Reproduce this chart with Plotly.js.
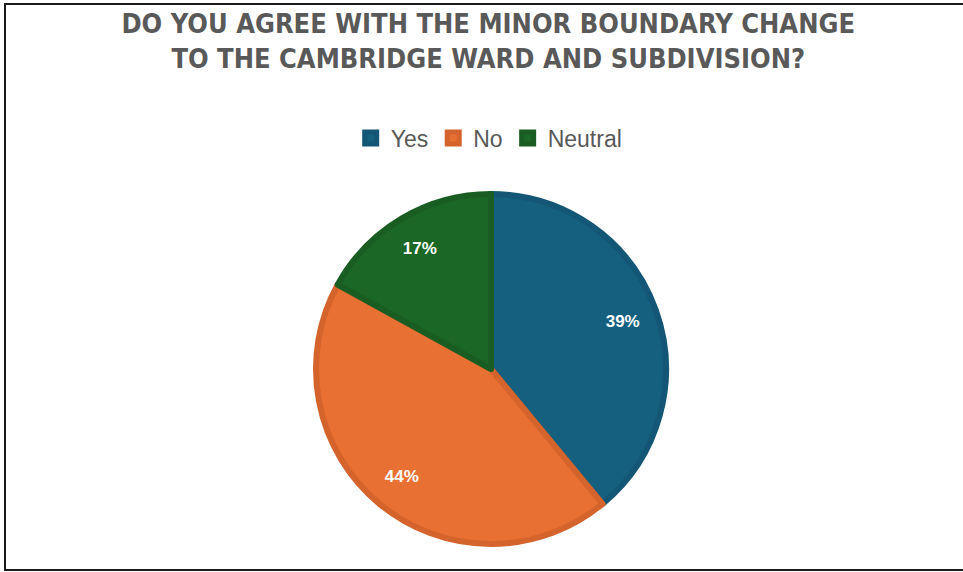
<!DOCTYPE html>
<html>
<head>
<meta charset="utf-8">
<script src="https://cdn.plot.ly/plotly-3.0.1.min.js"></script>
<style>
html,body{margin:0;padding:0;background:#fff;}
#chart{width:963px;height:572px;}
</style>
</head>
<body>
<div id="chart"></div>
<script>
const categories = ["Yes", "No", "Neutral"];
const values = [39, 44, 17];
const fillColors = ["#155F7F", "#E87033", "#1B6725"];
const edgeColors = ["#145675", "#D4642C", "#195D22"];
const titleText = "DO YOU AGREE WITH THE MINOR BOUNDARY CHANGE<br>TO THE CAMBRIDGE WARD AND SUBDIVISION?";

const W = 963, H = 572;
const cx = 491, cy = 369, r = 175;
const dom = {x: [(cx - r) / W, (cx + r) / W], y: [(H - cy - r) / H, (H - cy + r) / H]};

const pieTrace = {
  type: "pie",
  labels: categories,
  values: values,
  sort: false,
  direction: "clockwise",
  rotation: 0,
  textinfo: "none",
  marker: {colors: fillColors, line: {color: edgeColors, width: 6}},
  domain: dom,
  hoverinfo: "label+percent"
};

// transparent ring trace used only to place the percentage labels further out
const labelTrace = {
  type: "pie",
  labels: categories,
  values: values,
  sort: false,
  direction: "clockwise",
  rotation: 0,
  hole: 0.6,
  showlegend: false,
  textinfo: "percent",
  textposition: "inside",
  insidetextorientation: "horizontal",
  textfont: {family: "Liberation Sans, Arial, sans-serif", size: 17, color: "#ffffff", weight: "bold"},
  marker: {colors: ["rgba(0,0,0,0)", "rgba(0,0,0,0)", "rgba(0,0,0,0)"], line: {width: 0}},
  domain: dom,
  hoverinfo: "skip"
};

const layout = {
  width: W, height: H,
  margin: {l: 0, r: 0, t: 0, b: 0},
  paper_bgcolor: "#ffffff",
  title: {
    text: titleText,
    font: {family: "DejaVu Sans Condensed, DejaVu Sans, sans-serif", size: 27, color: "#595959", weight: "bold"},
    x: 0.507, xanchor: "center",
    y: 1 - 33 / H, yanchor: "middle", yref: "container"
  },
  showlegend: true,
  legend: {
    orientation: "h",
    x: 0.508, xanchor: "center",
    y: 1 - 138 / H, yanchor: "middle",
    font: {family: "Liberation Sans, Arial, sans-serif", size: 23, color: "#595959"},
    itemwidth: 30, traceorder: "normal"
  },
  shapes: [{
    type: "rect", xref: "paper", yref: "paper",
    x0: 5 / W, x1: 1.02, y0: 2 / H, y1: 1 - 4 / H,
    line: {color: "#1a1a1a", width: 2}, fillcolor: "rgba(0,0,0,0)"
  }]
};

Plotly.newPlot("chart", [pieTrace, labelTrace], layout, {displayModeBar: false, staticPlot: true});
</script>
</body>
</html>
